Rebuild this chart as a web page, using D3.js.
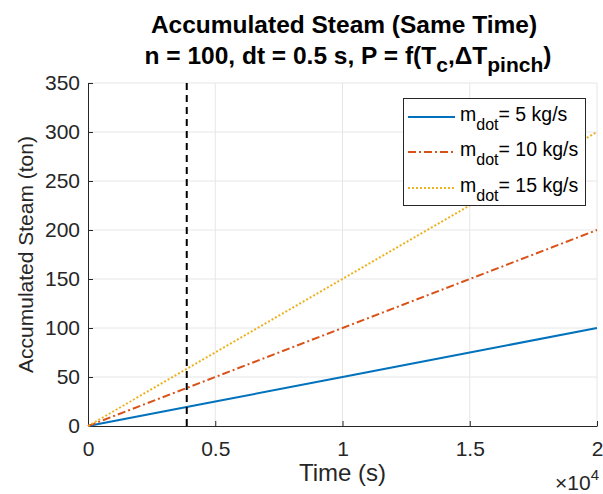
<!DOCTYPE html>
<html>
<head>
<meta charset="utf-8">
<script src="https://cdn.jsdelivr.net/npm/d3@7"></script>
<style>
  body { margin: 0; background: #fff; }
  svg { display: block; font-family: "Liberation Sans", Arial, Helvetica, sans-serif; }
</style>
</head>
<body>
<svg id="chart" width="603" height="494"></svg>
<script>
// Time samples (s) and accumulated steam (ton) for each mass flow rate
const timeSec = [0, 5000, 10000, 15000, 20000];
const steam5 = [0, 25, 50, 75, 100];
const steam10 = [0, 50, 100, 150, 200];
const steam15 = [0, 75, 150, 225, 300];
const seriesNames = ["5 kg/s", "10 kg/s", "15 kg/s"];
const markerTime = 3880; // vertical reference line (s)

const xTicks = [0, 5000, 10000, 15000, 20000];
const xTickLabels = ["0", "0.5", "1", "1.5", "2"];
const yTicks = [0, 50, 100, 150, 200, 250, 300, 350];

const series = [
  { name: seriesNames[0], values: steam5, color: "#0072BD", dash: null },
  { name: seriesNames[1], values: steam10, color: "#D95319", dash: "8,3,2,3" },
  { name: seriesNames[2], values: steam15, color: "#EDB120", dash: "2,2" }
];

const svg = d3.select("#chart");
const plotL = 88, plotR = 597, plotT = 83, plotB = 426;
const axisColor = "#262626";

const x = d3.scaleLinear().domain([0, 20000]).range([plotL, plotR]);
const y = d3.scaleLinear().domain([0, 350]).range([plotB, plotT]);

// grid
const grid = svg.append("g");
grid.selectAll(".gx").data(xTicks.slice(1)).join("line")
  .attr("x1", d => x(d)).attr("x2", d => x(d))
  .attr("y1", plotT).attr("y2", plotB)
  .attr("stroke", "#e6e6e6").attr("stroke-width", 1);
grid.selectAll(".gy").data(yTicks.slice(1)).join("line")
  .attr("x1", plotL).attr("x2", plotR)
  .attr("y1", d => y(d)).attr("y2", d => y(d))
  .attr("stroke", "#e6e6e6").attr("stroke-width", 1);

// axes
const xAxis = d3.axisBottom(x).tickValues(xTicks)
  .tickFormat((d, i) => xTickLabels[i]).tickSizeInner(-5).tickSizeOuter(0).tickPadding(15);
const yAxis = d3.axisLeft(y).tickValues(yTicks)
  .tickSizeInner(-5).tickSizeOuter(0).tickPadding(8);

const gx = svg.append("g").attr("transform", `translate(0,${plotB})`).call(xAxis);
const gy = svg.append("g").attr("transform", `translate(${plotL},0)`).call(yAxis);
[gx, gy].forEach(g => {
  g.select(".domain").attr("stroke", axisColor).attr("stroke-width", 1);
  g.selectAll(".tick line").attr("stroke", axisColor);
  g.selectAll(".tick text").attr("fill", axisColor)
    .style("font-size", "21px").style("font-family", "Liberation Sans, Arial, sans-serif");
});

// series lines
const line = d3.line().x((d, i) => x(timeSec[i])).y(d => y(d));
svg.append("g").selectAll("path").data(series).join("path")
  .attr("d", d => line(d.values))
  .attr("fill", "none")
  .attr("stroke", d => d.color)
  .attr("stroke-width", 2)
  .attr("stroke-dasharray", d => d.dash);

// vertical reference line
svg.append("line")
  .attr("x1", x(markerTime)).attr("x2", x(markerTime))
  .attr("y1", y(0)).attr("y2", y(350))
  .attr("stroke", "#000").attr("stroke-width", 2)
  .attr("stroke-dasharray", "7,5");

// titles
svg.append("text").attr("text-anchor", "middle").attr("x", 344).attr("y", 33)
  .attr("fill", "#000").style("font-weight", "bold").style("font-size", "24.5px")
  .text("Accumulated Steam (Same Time)");
const t2 = svg.append("text").attr("text-anchor", "middle").attr("x", 348).attr("y", 64)
  .attr("fill", "#000").style("font-weight", "bold").style("font-size", "24.5px");
t2.append("tspan").text("n = 100, dt = 0.5 s, P = f(T");
t2.append("tspan").attr("dy", 8).style("font-size", "21px").text("c");
t2.append("tspan").attr("dy", -8).text(",\u0394T");
t2.append("tspan").attr("dy", 8).style("font-size", "21px").text("pinch");
t2.append("tspan").attr("dy", -8).text(")");

// axis labels
svg.append("text").attr("x", (plotL + plotR) / 2).attr("y", 481)
  .attr("text-anchor", "middle").attr("fill", axisColor).style("font-size", "24px")
  .text("Time (s)");
svg.append("text").attr("transform", `translate(33,${(plotT + plotB) / 2}) rotate(-90)`)
  .attr("text-anchor", "middle").attr("fill", axisColor).style("font-size", "21px")
  .text("Accumulated Steam (ton)");

// exponent label
const ex = svg.append("text").attr("x", 599).attr("y", 490).attr("text-anchor", "end")
  .attr("fill", axisColor).style("font-size", "21px");
ex.append("tspan").text("\u00d710");
ex.append("tspan").attr("dy", -10).style("font-size", "15px").text("4");

// legend
const lg = svg.append("g");
lg.append("rect").attr("x", 403.5).attr("y", 98.5).attr("width", 182).attr("height", 107)
  .attr("fill", "#fff").attr("stroke", axisColor).attr("stroke-width", 1);
const rowY = [117, 152, 188];
series.forEach((s, i) => {
  lg.append("line").attr("x1", 408).attr("x2", 455)
    .attr("y1", rowY[i]).attr("y2", rowY[i])
    .attr("stroke", s.color).attr("stroke-width", 2).attr("stroke-dasharray", s.dash);
  const t = lg.append("text").attr("x", 460).attr("y", rowY[i] + 4)
    .attr("fill", "#000").style("font-size", "19.5px");
  t.append("tspan").text("m");
  t.append("tspan").attr("dy", 9).style("font-size", "16px").text("dot");
  t.append("tspan").attr("dy", -9).text("= " + s.name);
});
</script>
</body>
</html>
